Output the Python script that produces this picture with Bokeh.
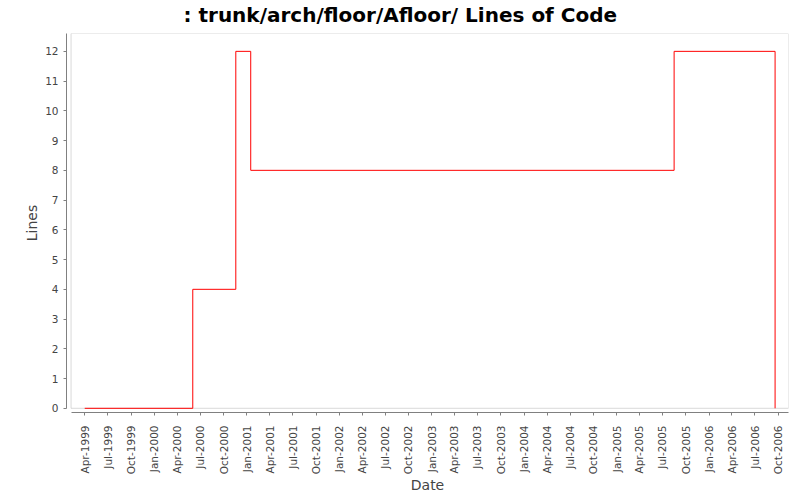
import math
from datetime import datetime
from bokeh.plotting import figure
from bokeh.models import (BoxAnnotation, MonthsTicker, DatetimeTickFormatter,
                          SingleIntervalTicker, Range1d, Title)
from bokeh.embed import file_html
from bokeh.resources import INLINE

# ---- data ----
dates = ["1999-04-01", "2000-06-01", "2000-11-18", "2001-01-16", "2005-08-16", "2006-09-19"]
lines = [0, 4, 12, 8, 12, 0]

title_text = ": trunk/arch/floor/Afloor/ Lines of Code"
x_label = "Date"
y_label = "Lines"

x_dates = [datetime.strptime(d, "%Y-%m-%d") for d in dates]

# ---- layout values ----
x_start = datetime(1999, 1, 19)
x_inner = datetime(1999, 2, 6)
x_end = datetime(2006, 11, 11)
y_start, y_end = -0.141, 12.6

p = figure(width=800, height=500, x_axis_type="datetime",
           output_backend="svg", toolbar_location=None,
           x_range=Range1d(x_start, x_end), y_range=Range1d(y_start, y_end),
           min_border_left=66, min_border_right=12, min_border_top=33,
           min_border_bottom=88)

# spacer between title and plot frame
p.add_layout(Title(text=" ", text_font_size="4px", standoff=0), "above")

p.title.text = title_text
p.title.align = "left"
p.title.offset = 117
p.title.text_font = "DejaVu Sans"
p.title.text_font_size = "20px"
p.title.text_font_style = "bold"
p.title.text_line_height = 1.0
p.title.text_color = "#000000"
p.title.standoff = 0

p.outline_line_color = None
p.background_fill_color = "white"
p.border_fill_color = "white"
p.xgrid.visible = False
p.ygrid.visible = False

# inner plot box
box = BoxAnnotation(left=x_inner, bottom=0, fill_alpha=0,
                    line_color="#808080", line_width=1, level="underlay")
p.add_layout(box)

p.step(x=x_dates, y=lines, mode="after", line_color="#ff0000", line_width=1)

# axes
for ax in (p.xaxis[0], p.yaxis[0]):
    ax.axis_line_color = "#808080"
    ax.major_tick_line_color = "#808080"
    ax.minor_tick_line_color = None
    ax.major_tick_in = 0
    ax.major_tick_out = 3
    ax.major_label_text_font = "DejaVu Sans"
    ax.major_label_text_font_size = "10.5px"
    ax.major_label_text_color = "#444444"
    ax.axis_label_text_font = "DejaVu Sans"
    ax.axis_label_text_font_size = "14px"
    ax.axis_label_text_font_style = "normal"
    ax.axis_label_text_color = "#444444"

p.xaxis.axis_label = x_label
p.yaxis.axis_label = y_label
p.xaxis.bounds = (x_inner, x_end)
p.yaxis.bounds = (0, y_end)

p.xaxis.ticker = MonthsTicker(months=[0, 3, 6, 9])
fmt = "%b-%Y"
p.xaxis.formatter = DatetimeTickFormatter(
    milliseconds=fmt, seconds=fmt, minsec=fmt, minutes=fmt, hourmin=fmt,
    hours=fmt, days=fmt, months=fmt, years=fmt)
p.xaxis.major_label_orientation = math.pi / 2
p.xaxis.major_label_standoff = 10
p.xaxis.axis_label_standoff = 0

p.yaxis.ticker = SingleIntervalTicker(interval=1)
p.yaxis.major_label_standoff = 4
p.yaxis.axis_label_standoff = 2

open("out.html", "w").write(file_html(p, INLINE))
